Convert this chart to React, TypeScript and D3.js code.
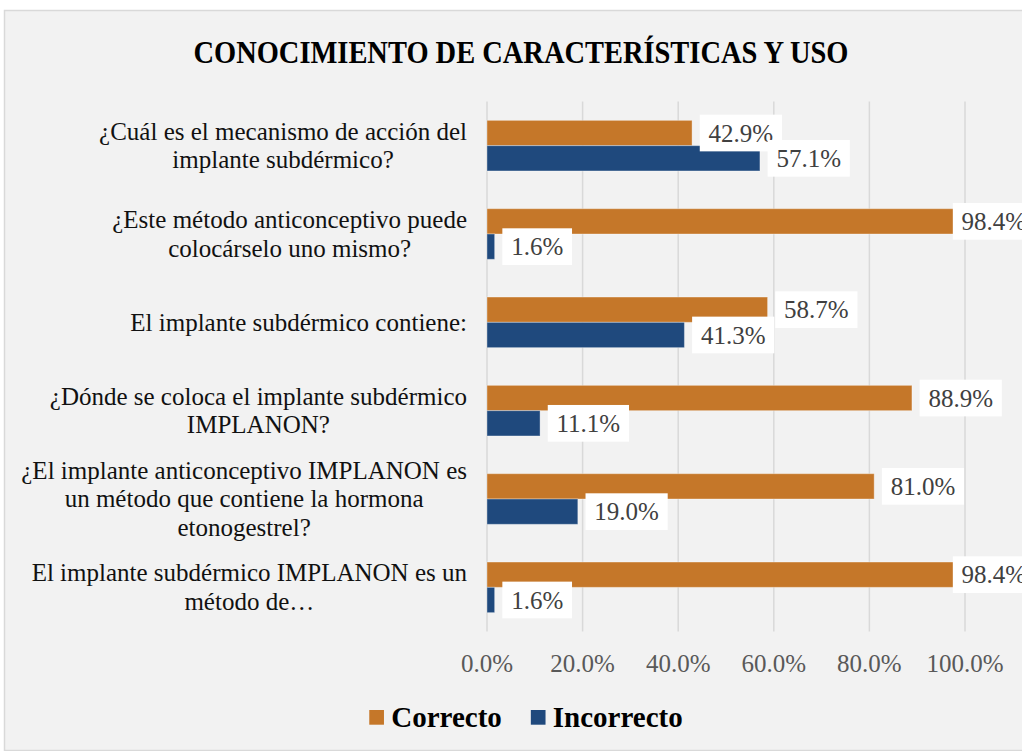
import React, { useEffect, useRef } from "react";
import * as d3 from "d3";

const categories: string[] = [
  "¿Cuál es el mecanismo de acción del\nimplante subdérmico?",
  "¿Este método anticonceptivo puede\ncolocárselo uno mismo?",
  "El implante subdérmico contiene:",
  "¿Dónde se coloca el implante subdérmico\nIMPLANON?",
  "¿El implante anticonceptivo IMPLANON es\nun método que contiene la hormona\netonogestrel?",
  "El implante subdérmico IMPLANON es un\nmétodo de…",
];
const correcto: number[] = [42.9, 98.4, 58.7, 88.9, 81.0, 98.4];
const incorrecto: number[] = [57.1, 1.6, 41.3, 11.1, 19.0, 1.6];
const seriesNames: string[] = ["Correcto", "Incorrecto"];
const seriesColors: string[] = ["#C57729", "#1F497D"];
const tickValues: number[] = [0, 20, 40, 60, 80, 100];
const title = "CONOCIMIENTO DE CARACTERÍSTICAS Y USO";

const W = 1022;
const H = 751;
const FONT = "'Liberation Serif', 'Times New Roman', serif";

export default function App() {
  const ref = useRef<SVGSVGElement | null>(null);

  useEffect(() => {
    const svg = d3.select(ref.current);
    svg.selectAll("*").remove();

    const chartRight = 1038;
    // background
    svg
      .append("rect")
      .attr("x", 4.5)
      .attr("y", 10.5)
      .attr("width", chartRight - 4.5)
      .attr("height", 740)
      .attr("fill", "#F2F2F2")
      .attr("stroke", "#D9D9D9")
      .attr("stroke-width", 1.5);

    // title
    svg
      .append("text")
      .attr("x", 521)
      .attr("y", 63)
      .attr("text-anchor", "middle")
      .attr("font-family", FONT)
      .attr("font-weight", "bold")
      .attr("font-size", 31)
      .attr("textLength", 655)
      .attr("lengthAdjust", "spacingAndGlyphs")
      .attr("fill", "#000")
      .text(title);

    const x = d3.scaleLinear().domain([0, 100]).range([487, 965]);
    const y = d3
      .scaleBand<string>()
      .domain(categories)
      .range([101.5, 631.5])
      .paddingInner(0.427)
      .paddingOuter(0.2135);
    const ys = d3
      .scaleBand<string>()
      .domain(seriesNames)
      .range([0, y.bandwidth()]);

    // gridlines
    svg
      .append("g")
      .selectAll("line")
      .data(tickValues)
      .join("line")
      .attr("x1", (d) => x(d))
      .attr("x2", (d) => x(d))
      .attr("y1", 101.5)
      .attr("y2", 631.5)
      .attr("stroke", "#D9D9D9")
      .attr("stroke-width", 1.5);

    // tick labels
    svg
      .append("g")
      .selectAll("text")
      .data(tickValues)
      .join("text")
      .attr("x", (d) => x(d))
      .attr("y", 672)
      .attr("text-anchor", "middle")
      .attr("font-family", FONT)
      .attr("font-size", 25)
      .attr("fill", "#595959")
      .text((d) => d3.format(".1f")(d) + "%");

    const seriesValues = [correcto, incorrecto];

    // bars
    seriesValues.forEach((vals, si) => {
      svg
        .append("g")
        .selectAll("rect")
        .data(vals)
        .join("rect")
        .attr("x", x(0))
        .attr("y", (_, i) => (y(categories[i]) as number) + (ys(seriesNames[si]) as number))
        .attr("width", (d) => x(d) - x(0))
        .attr("height", ys.bandwidth())
        .attr("fill", seriesColors[si])
        .attr("stroke", "#ffffff")
        .attr("stroke-opacity", 0.35)
        .attr("stroke-width", 1);
    });

    // data labels
    const labelsG = svg.append("g");
    categories.forEach((c, i) => {
      seriesValues.forEach((vals, si) => {
        const v = vals[i];
        const cy = (y(c) as number) + (ys(seriesNames[si]) as number) + ys.bandwidth() / 2;
        const g = labelsG.append("g");
        const rect = g.append("rect").attr("fill", "#FFFFFF");
        const t = g
          .append("text")
          .attr("font-family", FONT)
          .attr("font-size", 25)
          .attr("fill", "#404040")
          .attr("text-anchor", "middle")
          .text(d3.format(".1f")(v) + "%");
        const tw = (t.node() as SVGTextElement).getComputedTextLength();
        const bw = tw + 17.6;
        const bh = 36.7;
        const bx = Math.min(x(v) + 7.7, chartRight - 3 - bw);
        rect.attr("x", bx).attr("y", cy - bh / 2).attr("width", bw).attr("height", bh);
        t.attr("x", bx + bw / 2).attr("y", cy + 8.6);
      });
    });

    // category labels
    categories.forEach((c) => {
      const lines = c.split("\n");
      const cy = (y(c) as number) + y.bandwidth() / 2;
      const g = svg.append("g");
      const texts = lines.map((ln) =>
        g
          .append("text")
          .attr("font-family", FONT)
          .attr("font-size", 25)
          .attr("fill", "#111111")
          .attr("text-anchor", "middle")
          .text(ln)
      );
      const maxW = d3.max(texts, (t) => (t.node() as SVGTextElement).getComputedTextLength()) || 0;
      const cx = 467 - maxW / 2;
      const n = lines.length;
      texts.forEach((t, j) => {
        t.attr("x", cx).attr("y", cy + (j - (n - 1) / 2) * 28.5 + 8.25);
      });
    });

    // legend
    const lg = svg.append("g");
    const items = seriesNames.map((name, si) => {
      const sq = lg.append("rect").attr("width", 14.7).attr("height", 14.7).attr("fill", seriesColors[si]);
      const t = lg
        .append("text")
        .attr("font-family", FONT)
        .attr("font-weight", "bold")
        .attr("font-size", 29)
        .attr("fill", "#000")
        .text(name);
      const tw = (t.node() as SVGTextElement).getComputedTextLength();
      return { sq, t, tw };
    });
    const itemW = items.map((it) => 14.7 + 7.3 + it.tw);
    const gap = 29;
    const total = d3.sum(itemW) + gap * (items.length - 1);
    let lx = 526 - total / 2;
    items.forEach((it, k) => {
      it.sq.attr("x", lx).attr("y", 710);
      it.t.attr("x", lx + 22).attr("y", 727.3);
      lx += itemW[k] + gap;
    });
  }, []);

  return (
    <svg
      ref={ref}
      width={W}
      height={H}
      style={{ position: "absolute", left: 0, top: 0, display: "block" }}
    />
  );
}
